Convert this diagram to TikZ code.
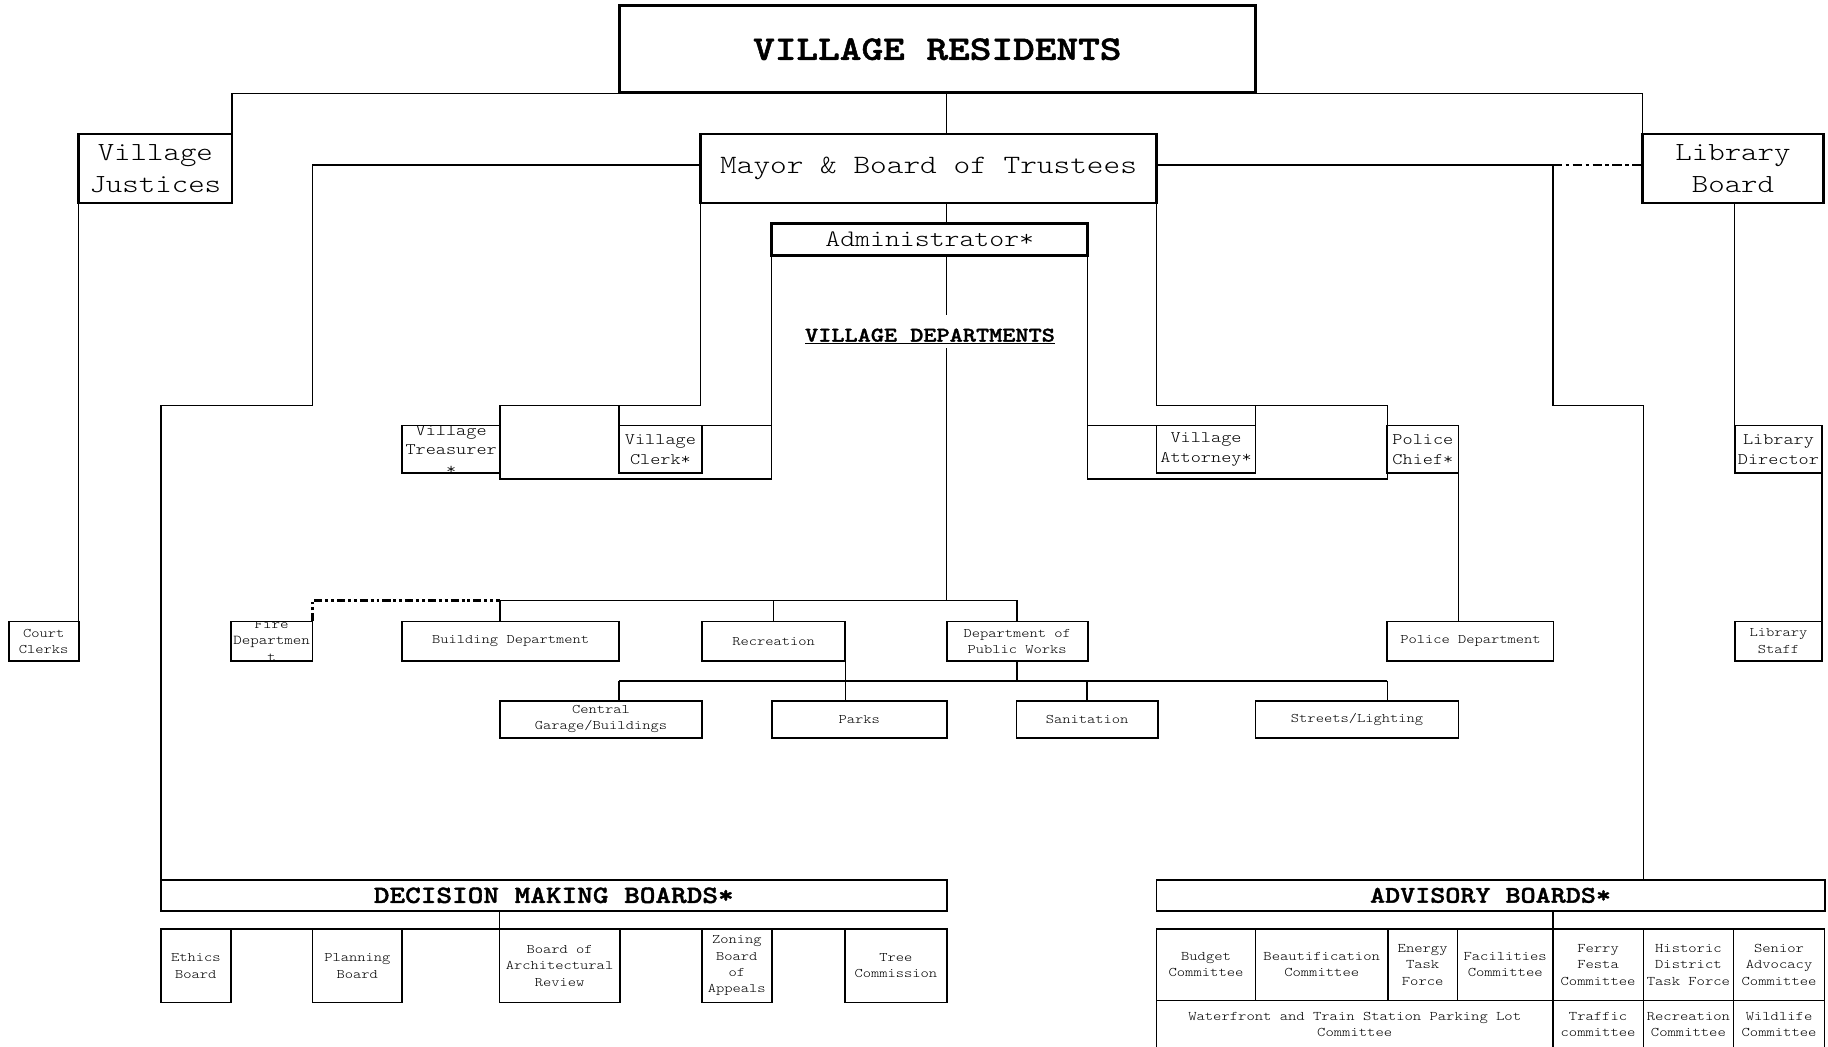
\documentclass[tikz,border=0pt]{standalone}
\usepackage{fontspec}
\setmainfont{lmmonolt10-regular.otf}[BoldFont=lmmonolt10-bold.otf, FakeStretch=1.2, BoldFeatures={FakeBold=1.5}]
\newcommand{\fsz}[2]{\fontsize{#1}{#2}\selectfont}
\newcommand{\orgbox}[7]{\node[#1, minimum width={(#4)-(#2)}, minimum height={(#5)-(#3)}] (#6) at ({((#2)+(#4))/2},{((#3)+(#5))/2}) {#7};}
\tikzset{
  conn/.style={line width=1.2pt},
  ddot/.style={line width=2.4pt, dash pattern=on 8pt off 3pt on 3pt off 3pt},
  ddotdot/.style={line width=2.2pt, dash pattern=on 7pt off 2.5pt on 2.5pt off 2.5pt on 2.5pt off 2.5pt},
  bigbox/.style={draw, line width=2.2pt, inner sep=0pt, outer sep=0pt, align=center},
  smallbox/.style={draw, line width=1.5pt, inner sep=0pt, outer sep=0pt, align=center},
  midbox/.style={smallbox, font=\fsz{13.8}{17}},
  deptbox/.style={smallbox, font=\fsz{11.24}{14}},
  gridcell/.style={draw, line width=1.2pt, inner sep=0pt, outer sep=0pt, align=center, font=\fsz{11.33}{14}},
}
\begin{document}
\begin{tikzpicture}[x=1pt,y=-1pt]
\fill[white] (0,0) rectangle (1568,898);
\useasboundingbox (0,0) rectangle (1568,898);

% top level
\orgbox{bigbox,line width=2.6pt,font=\bfseries\fsz{29.5}{36}}{531}{5}{1077}{79.5}{res}{VILLAGE RESIDENTS}
\orgbox{bigbox,font=\fsz{22.4}{27}}{67.5}{115}{199}{174}{just}{Village\\Justices}
\orgbox{bigbox,font=\fsz{22.7}{27}}{601}{115}{992}{174}{mayor}{Mayor \& Board of Trustees}
\orgbox{bigbox,font=\fsz{22.4}{27}}{1409}{115}{1564}{174}{lib}{Library\\Board}
\orgbox{bigbox,font=\fsz{20.3}{25}}{662}{191.5}{933}{219}{admin}{Administrator*}
\node[font=\bfseries\fsz{17.9}{22}, anchor=base, inner sep=0pt] (depts) at (797.7,293) {\underline{VILLAGE DEPARTMENTS}};

% middle level
\orgbox{smallbox}{345}{365}{429}{406}{treas}{}
\begin{scope}
  \clip (345,365) rectangle (440,420);
  \node[font=\fsz{13.8}{17}, align=center, inner sep=0pt] (treastxt) at (387,386) {Village\\Treasurer\\*};
\end{scope}
\orgbox{midbox}{531}{365}{602}{406}{clerk}{Village\\Clerk*}
\orgbox{midbox}{992}{365}{1077}{406}{atty}{Village\\Attorney*}
\orgbox{midbox}{1190}{365}{1251}{406}{chief}{Police\\Chief*}
\orgbox{midbox}{1488}{365}{1563}{406}{libdir}{Library\\Director}

% departments
\orgbox{deptbox}{7.5}{533}{67.5}{567}{court}{Court\\Clerks}
\orgbox{smallbox}{198}{533}{268}{567}{fire}{}
\begin{scope}
  \clip (198,533) rectangle (280,580);
  \node[font=\fsz{11.6}{14}, align=center, inner sep=0pt] (firetxt) at (233,549.5) {Fire\\Departmen\\t};
\end{scope}
\orgbox{deptbox}{345}{533}{531}{567}{bldg}{Building Department}
\orgbox{deptbox}{602}{533}{725}{567}{rec}{Recreation}
\orgbox{deptbox}{812}{533}{933}{567}{dpw}{Department of\\Public Works}
\orgbox{deptbox}{1190}{533}{1332.6}{567}{police}{Police Department}
\orgbox{deptbox}{1488}{533}{1563}{567}{libstaff}{Library\\Staff}

\orgbox{deptbox,font=\fsz{11.24}{13.5}}{429}{601}{602}{633}{garage}{Central\\Garage/Buildings}
\orgbox{deptbox}{662}{601}{812}{633}{parks}{Parks}
\orgbox{deptbox}{872}{601}{993}{633}{sanit}{Sanitation}
\orgbox{deptbox}{1077}{601}{1251}{633}{streets}{Streets/Lighting}

% decision making boards
\orgbox{smallbox,line width=1.7pt,font=\bfseries\fsz{21.3}{26}}{138}{755}{812}{781}{dmb}{DECISION MAKING BOARDS*}
\orgbox{deptbox}{138}{797}{198}{860}{ethics}{Ethics\\Board}
\orgbox{deptbox}{268}{797}{345}{860}{planning}{Planning\\Board}
\orgbox{deptbox}{428.5}{797}{531.5}{860}{bar}{Board of\\Architectural\\Review}
\orgbox{deptbox}{602}{797}{662}{860}{zba}{Zoning\\Board\\of\\Appeals}
\orgbox{deptbox}{725}{797}{812}{860}{tree}{Tree\\Commission}

% advisory boards
\orgbox{smallbox,line width=1.7pt,font=\bfseries\fsz{20.5}{25}}{992}{755}{1565}{781}{adv}{ADVISORY BOARDS*}
\orgbox{gridcell}{992}{797}{1077}{858}{c1}{Budget\\Committee}
\orgbox{gridcell}{1077}{797}{1190.4}{858}{c2}{Beautification\\Committee}
\orgbox{gridcell}{1190.4}{797}{1250.2}{858}{c3}{Energy\\Task\\Force}
\orgbox{gridcell}{1250.2}{797}{1332}{858}{c4}{Facilities\\Committee}
\orgbox{gridcell}{1332}{797}{1409.5}{858}{c5}{Ferry\\Festa\\Committee}
\orgbox{gridcell}{1409.5}{797}{1487}{858}{c6}{Historic\\District\\Task Force}
\orgbox{gridcell}{1487}{797}{1565}{858}{c7}{Senior\\Advocacy\\Committee}
\orgbox{gridcell}{992}{858}{1332}{900}{d1}{Waterfront and Train Station Parking Lot\\Committee}
\orgbox{gridcell}{1332}{858}{1409.5}{900}{d2}{Traffic\\committee}
\orgbox{gridcell}{1409.5}{858}{1487}{900}{d3}{Recreation\\Committee}
\orgbox{gridcell}{1487}{858}{1565}{900}{d4}{Wildlife\\Committee}

% connectors
\coordinate (topbus) at (812,80);
\draw[conn] (just.north east) |- (topbus) -| (lib.north west);
\draw[conn] (topbus) -- (topbus |- mayor.north);
\draw[conn] (topbus |- mayor.south) -- (topbus |- admin.north);
\coordinate (gapA) at (812,270);
\coordinate (gapB) at (812,298.5);
\coordinate (deptbus) at (812,515);
\draw[conn] (topbus |- admin.south) -- (gapA);
\draw[conn] (gapB) -- (deptbus);

\draw[conn] ([yshift=3pt]mayor.west) -| (268,348) -| (dmb.north west);
\draw[conn] ([yshift=3pt]mayor.east) -| (1332,348) -| (adv.north -| c6.north west);
\draw[ddot] (1332,141.5) -- ([yshift=3pt]lib.west);

\draw[conn] (mayor.south west) |- (429,348) |- (662,411) -- (admin.south west);
\draw[conn] (clerk.north west) -- (clerk.north west |- 0,348);
\draw[conn] (clerk.north east) -- (clerk.north east -| admin.south west);
\draw[conn] (mayor.south east) |- (1190,348) |- (933,411) -- (admin.south east);
\draw[conn] (atty.north east) -- (atty.north east |- 0,348);
\draw[conn] (atty.north west) -- (atty.north west -| admin.south east);

\draw[conn] (chief.south east) -- (chief.south east |- police.north);
\draw[conn] (libdir.north west |- lib.south) -- (libdir.north west);
\draw[conn] (libdir.south east) -- (libstaff.north east);
\draw[conn] (just.south west) -- (court.north east);

\coordinate (bb) at (429,515);
\draw[ddotdot] (fire.north east) |- (bb);
\draw[conn] (bb) -| (dpw.north);
\draw[conn] (bb) -- (bb |- bldg.north);
\draw[conn] (rec.north |- bb) -- (rec.north);
\draw[conn] (rec.south east) -- (rec.south east |- parks.north);

\coordinate (sb) at (872.5,584);
\coordinate (sbl) at (531,584);
\coordinate (sbr) at (1190,584);
\draw[conn] (dpw.south) -- (sb);
\draw[conn] (sbl) -- (sbr);
\draw[conn] (sbl) -- (sbl |- garage.north);
\draw[conn] (sanit.north |- sb) -- (sanit.north);
\draw[conn] (sbr) -- (sbr |- streets.north);

\draw[conn] (bar.north west |- dmb.south) -- (bar.north west);
\draw[conn] (ethics.north west) -- (tree.north east);
\draw[conn] (c5.north west |- adv.south) -- (c5.north west);
\end{tikzpicture}
\end{document}
